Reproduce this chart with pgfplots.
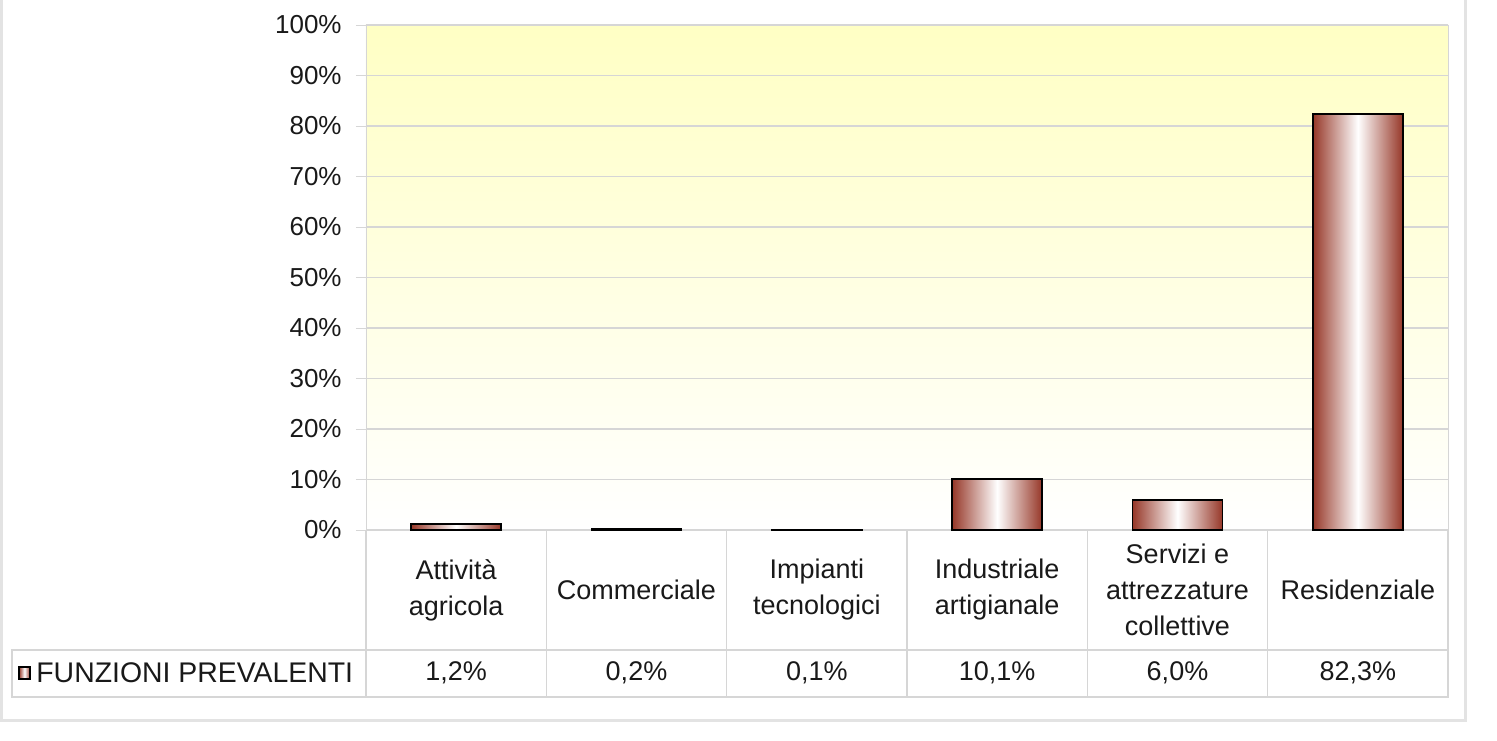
\documentclass[border=0pt]{standalone}
\usepackage{pgfplots}
\pgfplotsset{compat=1.18}
\usepackage{fontspec}
\setmainfont{Liberation Sans}

\definecolor{barbrown}{RGB}{150,55,40}
\definecolor{bgyellow}{RGB}{255,255,196}
\definecolor{gridgray}{RGB}{214,214,214}
\definecolor{txt}{RGB}{25,25,25}

\begin{document}
\begin{tikzpicture}
\begin{axis}[
    at={(0,0)}, anchor=south west,
    scale only axis,
    width=541pt, height=252.5pt,
    xmin=-0.5, xmax=5.5,
    ymin=0, ymax=100,
    xtick=\empty,
    ytick={0,10,...,100},
    ytick pos=left,
    yticklabel={\pgfmathprintnumber{\tick}\%},
    yticklabel style={font=\fontsize{13}{15}\selectfont, text=txt, inner sep=0pt, xshift=-7pt},
    /pgf/number format/assume math mode=true,
    ytick align=outside,
    major tick length=5pt,
    ytick style={gridgray},
    ymajorgrids=true,
    grid style={gridgray, line width=0.6pt},
    axis line style={gridgray},
    axis background/.style={shade, top color=bgyellow, bottom color=white},
    clip=false,
    barstyle/.style={ybar, bar width=0.5, draw=black, line width=0.9pt,
        left color=barbrown, right color=barbrown, middle color=white},
]
% one plot per bar so that each bar gets its own shading
\addplot[barstyle] coordinates {(0, 1.2)};
\addplot[barstyle] coordinates {(1, 0.2)};
\addplot[barstyle] coordinates {(2, 0.1)};
\addplot[barstyle] coordinates {(3, 10.1)};
\addplot[barstyle] coordinates {(4, 6.0)};
\addplot[barstyle] coordinates {(5, 82.3)};
\end{axis}

% data table and frame, 1 unit = 1 px of the reference
\begin{scope}[x=0.5pt, y=0.5pt]
\useasboundingbox (-366,-210) rectangle (1131,530);
\draw[gray!22, line width=1.5pt] (-364,530) -- (-364,-190) -- (1099,-190) -- (1099,530);
\foreach \k in {0,...,6} {
  \draw[gridgray, line width=0.6pt] ({180.33*\k},0) -- ({180.33*\k},-167);
}
\draw[gridgray, line width=0.6pt] (-354,-120) rectangle (1082,-167);
\draw[gridgray, line width=0.6pt] (-354,-120) -- (0,-120);

\tikzset{cat/.style={font=\fontsize{13.5}{18}\selectfont, text=txt, align=center}}
\foreach \i/\lab/\val in {
  0/{Attività\\agricola}/{1,2\%},
  1/{Commerciale}/{0,2\%},
  2/{Impianti\\tecnologici}/{0,1\%},
  3/{Industriale\\artigianale}/{10,1\%},
  4/{Servizi e\\attrezzature\\collettive}/{6,0\%},
  5/{Residenziale}/{82,3\%}} {
  \node[cat] at ({90.17+180.33*\i},-60) {\lab};
  \node[cat] at ({90.17+180.33*\i},-143) {\val};
}
\shade[left color=barbrown, right color=barbrown, middle color=white, draw=black, line width=0.8pt]
  (-347,-149) rectangle (-336,-137);
\node[cat, font=\fontsize{14.2}{17}\selectfont, anchor=west, inner sep=0pt] at (-330,-143) {FUNZIONI PREVALENTI};
\end{scope}
\end{tikzpicture}
\end{document}
